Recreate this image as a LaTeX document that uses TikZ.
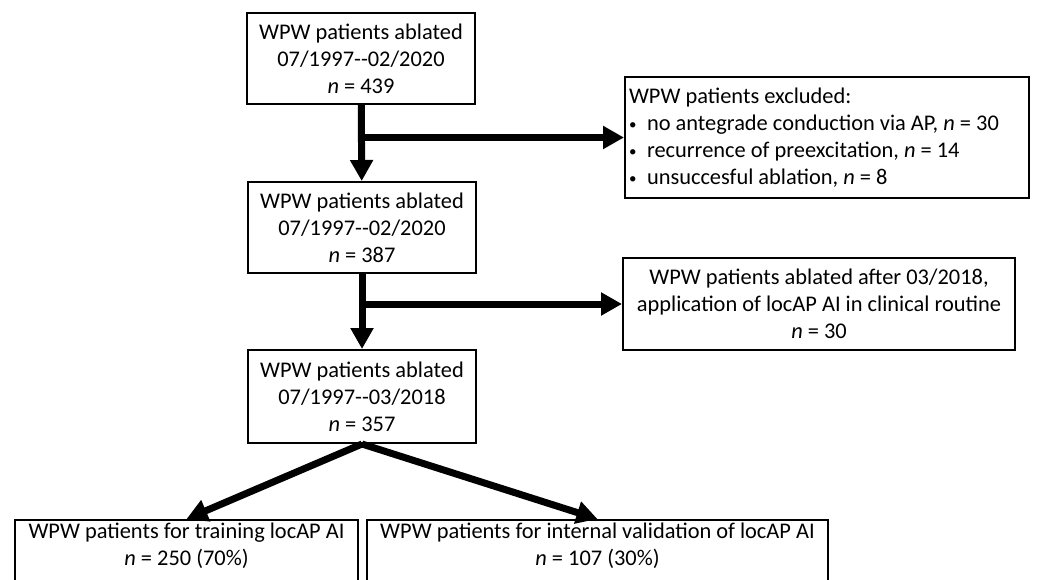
\documentclass[tikz,border=0pt]{standalone}
\usepackage{fontspec}
\setmainfont{Carlito}[Ligatures=TeXOff]
\usetikzlibrary{arrows.meta}
\newcommand{\dotitem}{\makebox[18pt][l]{\raisebox{1pt}{\fontsize{15}{15}\selectfont •}}}

\begin{document}
\begin{tikzpicture}[x=1pt,y=-1pt,font=\fontsize{22.4}{27}\selectfont,
  flow/.style={line width=7pt,-{Triangle[length=21pt,width=22pt]}}]
  \tikzstyle{box}=[draw,line width=2pt,align=center,inner sep=3pt]
  \useasboundingbox (0,0) rectangle (1038,580);

  \node[box,minimum width=228pt,minimum height=91pt] (A) at (361,58.5)
    {WPW patients ablated\\07/1997-{}-02/2020\\\textit{n} = 439};
  \node[box,minimum width=228pt,minimum height=91pt] (B) at (362,227.5)
    {WPW patients ablated\\07/1997-{}-02/2020\\\textit{n} = 387};
  \node[box,minimum width=228pt,minimum height=93pt] (C) at (362,396.5)
    {WPW patients ablated\\07/1997-{}-03/2018\\\textit{n} = 357};
  \node[box,anchor=north west,align=left,text width=396pt,inner xsep=4pt,
    minimum height=121pt] (X1) at (624,76)
    {\spaceskip=0pt\xspaceskip=0pt WPW patients excluded:\\
     \dotitem no antegrade conduction via AP, \textit{n} = 30\\
     \dotitem recurrence of preexcitation, \textit{n} = 14\\
     \dotitem unsuccesful ablation, \textit{n} = 8};
  \node[box,minimum width=392pt,minimum height=92pt] (X2) at (819,304)
    {WPW patients ablated after 03/2018,\\application of locAP AI in clinical routine\\\textit{n} = 30};
  \node[box,anchor=north,minimum width=343pt,text depth=60pt] (D) at (186.5,519)
    {WPW patients for training locAP AI\\\textit{n} = 250 (70\%)};
  \node[box,anchor=north,minimum width=461pt,text depth=60pt] (E) at (597.5,519)
    {WPW patients for internal validation of locAP AI\\\textit{n} = 107 (30\%)};

  \draw[flow] (A) -- (B);
  \draw[flow] (A.south |- X1.west) -- (X1.west);
  \draw[flow] (B) -- (C);
  \draw[flow] (B.south |- X2.west) -- (X2.west);
  \draw[flow] (C.south) -- (D.north);
  \draw[flow] (C.south) -- (E.north);
\end{tikzpicture}
\end{document}
